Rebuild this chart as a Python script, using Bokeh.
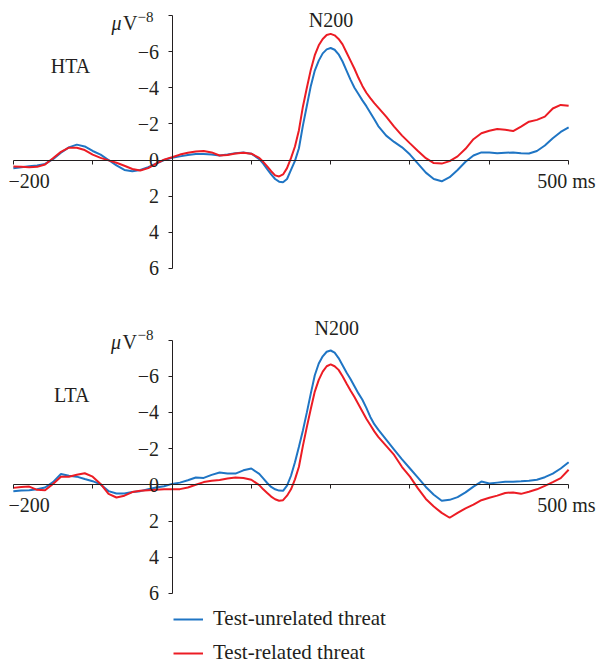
from bokeh.plotting import figure
from bokeh.models import Range1d, FixedTicker, Label, Legend, LegendItem
from bokeh.layouts import column
from bokeh.embed import file_html
from bokeh.resources import INLINE

# ---------------- data (µV, negative plotted upward) ----------------
time_ms = [-200, -190, -180, -170, -160, -150, -140, -130, -120, -110,
           -100, -90, -80, -70, -60, -50, -40, -30, -20, -10,
           0, 10, 20, 30, 40, 50, 60, 70, 80, 90, 100,
           110, 115, 120, 125, 130, 135, 140, 145, 150, 155,
           160, 165, 170, 175, 180, 185, 190, 195, 200, 205,
           210, 215, 220, 225, 230, 235, 240, 245, 250, 255, 260,
           270, 280, 290, 300, 310, 320, 330, 340, 350, 360,
           370, 380, 390, 400, 410, 420, 430, 440, 450, 460,
           470, 480, 490, 500]

hta_unrelated = [0.45, 0.40, 0.35, 0.30, 0.22, -0.05, -0.40, -0.70, -0.85, -0.75,
                 -0.50, -0.30, 0.00, 0.30, 0.55, 0.62, 0.55, 0.40, 0.20, 0.00,
                 -0.12, -0.20, -0.28, -0.33, -0.33, -0.30, -0.25, -0.30, -0.38, -0.42, -0.35,
                 -0.05, 0.20, 0.50, 0.80, 1.05, 1.20, 1.23, 1.05, 0.55, 0.05,
                 -0.65, -1.90, -3.00, -4.10, -4.95, -5.50, -5.90, -6.12, -6.20, -6.10,
                 -5.85, -5.45, -4.95, -4.45, -4.00, -3.65, -3.30, -2.98, -2.62, -2.25, -1.88,
                 -1.35, -1.00, -0.70, -0.30, 0.20, 0.70, 1.05, 1.18, 0.95, 0.55,
                 0.10, -0.25, -0.42, -0.42, -0.38, -0.40, -0.42, -0.38, -0.36, -0.50,
                 -0.80, -1.20, -1.55, -1.80]

hta_related = [0.36, 0.38, 0.40, 0.38, 0.25, -0.10, -0.45, -0.68, -0.68, -0.55,
               -0.30, -0.12, 0.02, 0.15, 0.32, 0.50, 0.58, 0.45, 0.20, -0.02,
               -0.15, -0.30, -0.40, -0.47, -0.50, -0.42, -0.25, -0.28, -0.36, -0.40, -0.35,
               -0.12, 0.10, 0.35, 0.62, 0.85, 0.91, 0.80, 0.45, -0.10, -0.75,
               -1.65, -2.95, -4.00, -5.00, -5.80, -6.35, -6.70, -6.92, -6.98, -6.90,
               -6.70, -6.40, -5.95, -5.50, -5.05, -4.55, -4.10, -3.72, -3.42, -3.15, -2.90,
               -2.40, -1.85, -1.35, -0.92, -0.50, -0.10, 0.17, 0.20, 0.06, -0.20,
               -0.62, -1.15, -1.48, -1.62, -1.72, -1.68, -1.60, -1.85, -2.12, -2.22,
               -2.40, -2.85, -3.05, -3.00]

lta_unrelated = [0.36, 0.32, 0.30, 0.25, 0.15, -0.15, -0.60, -0.50, -0.45, -0.32,
                 -0.20, -0.02, 0.35, 0.48, 0.48, 0.40, 0.35, 0.25, 0.15, 0.08,
                 -0.05, -0.12, -0.25, -0.40, -0.38, -0.55, -0.68, -0.62, -0.62, -0.80, -0.90,
                 -0.60, -0.35, -0.10, 0.12, 0.25, 0.32, 0.33, 0.05, -0.50, -1.25,
                 -2.10, -3.00, -4.00, -5.05, -6.05, -6.70, -7.10, -7.35, -7.42, -7.30,
                 -7.00, -6.60, -6.20, -5.85, -5.45, -5.05, -4.70, -4.25, -3.75, -3.35, -3.05,
                 -2.50, -1.95, -1.40, -0.90, -0.40, 0.12, 0.55, 0.88, 0.83, 0.68,
                 0.42, 0.10, -0.18, -0.07, -0.12, -0.17, -0.17, -0.19, -0.22, -0.28,
                 -0.42, -0.62, -0.90, -1.25]

lta_related = [0.17, 0.12, 0.10, 0.28, 0.30, -0.05, -0.45, -0.45, -0.55, -0.64,
               -0.45, -0.05, 0.50, 0.70, 0.60, 0.40, 0.33, 0.30, 0.27, 0.24,
               0.24, 0.24, 0.15, 0.00, -0.15, -0.22, -0.27, -0.35, -0.40, -0.38, -0.28,
               0.02, 0.25, 0.45, 0.65, 0.80, 0.88, 0.85, 0.60, 0.25, -0.30,
               -1.00, -2.15, -3.20, -4.20, -5.15, -5.80, -6.25, -6.55, -6.65, -6.55,
               -6.35, -6.00, -5.60, -5.21, -4.85, -4.45, -4.05, -3.65, -3.30, -2.95, -2.65,
               -2.15, -1.65, -0.98, -0.45, 0.20, 0.78, 1.20, 1.55, 1.82, 1.55,
               1.30, 1.10, 0.85, 0.72, 0.60, 0.45, 0.42, 0.50, 0.38, 0.25,
               0.06, -0.15, -0.37, -0.83]

y_ticks = [-8, -6, -4, -2, 0, 2, 4, 6]
y_tick_labels = ["", "\u22126", "\u22124", "\u22122", "0", "2", "4", "6"]
x_ticks = [-200, -100, 0, 100, 200, 300, 400, 500]
series_names = ["Test-unrelated threat", "Test-related threat"]
panel_names = ["HTA", "LTA"]

for s in (hta_unrelated, hta_related, lta_unrelated, lta_related):
    assert len(s) == len(time_ms)

# ---------------- styling / geometry ----------------
FONT = "Liberation Serif"
INK = "#231f20"
BLUE = "#1f75c4"
RED = "#ec1c24"
W = 596

# horizontal mapping (pixels): x = X0 + XS * t
X0, XS = 171.5, 0.7933
def tx(px):
    return (px - X0) / XS

def make_panel(top_px, bot_px, y0, ys, unrelated, related):
    def ty(py):
        return (py - y0) / ys
    p = figure(width=W, height=int(round(bot_px - top_px)),
               x_range=Range1d(tx(0), tx(W)),
               y_range=Range1d(ty(bot_px), ty(top_px)),
               output_backend="svg", toolbar_location=None, min_border=0)
    p.outline_line_color = None
    p.xgrid.visible = False
    p.ygrid.visible = False
    b = p.line(time_ms, unrelated, line_color=BLUE, line_width=2)
    r = p.line(time_ms, related, line_color=RED, line_width=2)

    xa = p.xaxis[0]
    xa.fixed_location = 0
    xa.bounds = (-200, 500)
    xa.ticker = FixedTicker(ticks=x_ticks)
    xa.major_label_overrides = {t: "" for t in x_ticks}
    xa.major_tick_out = 4
    xa.major_tick_in = 0
    xa.minor_tick_out = 0
    xa.minor_tick_in = 0
    xa.axis_line_color = INK
    xa.major_tick_line_color = INK

    ya = p.yaxis[0]
    ya.fixed_location = 0
    ya.bounds = (-8, 6)
    ya.ticker = FixedTicker(ticks=y_ticks)
    ya.major_label_overrides = dict(zip(y_ticks, y_tick_labels))
    ya.major_tick_out = 4
    ya.major_tick_in = 0
    ya.minor_tick_out = 0
    ya.minor_tick_in = 0
    ya.major_label_standoff = 9
    ya.axis_line_color = INK
    ya.major_tick_line_color = INK
    ya.major_label_text_font = FONT
    ya.major_label_text_font_size = "20px"
    ya.major_label_text_color = INK
    return p, b, r, ty

def add_label(p, x, y, text, align="center", size="20px", style="normal"):
    p.add_layout(Label(x=x, y=y, text=text, text_align=align,
                       text_baseline="middle", text_font=FONT,
                       text_font_size=size, text_font_style=style,
                       text_color=INK))

# ---------------- top panel (HTA) ----------------
p1, b1, r1, ty1 = make_panel(0, 300, 159.5, 18.07, hta_unrelated, hta_related)
add_label(p1, tx(70), ty1(65), panel_names[0])
add_label(p1, tx(330.5), ty1(19), "N200")
add_label(p1, tx(28.7), ty1(180), "\u2212200")
add_label(p1, tx(595), ty1(180), "500 ms", align="right")
add_label(p1, tx(121), ty1(22), "\u03bc", align="right", style="italic")
add_label(p1, tx(137), ty1(22), "V", align="right")
add_label(p1, tx(137), ty1(16.5), "\u22128", align="left", size="15px")

# ---------------- bottom panel (LTA) ----------------
p2, b2, r2, ty2 = make_panel(300, 665, 484.3, 18.1, lta_unrelated, lta_related)
add_label(p2, tx(71.3), ty2(394), panel_names[1])
add_label(p2, tx(336.3), ty2(327), "N200")
add_label(p2, tx(28.7), ty2(504.5), "\u2212200")
add_label(p2, tx(595), ty2(504.5), "500 ms", align="right")
add_label(p2, tx(120.5), ty2(341), "\u03bc", align="right", style="italic")
add_label(p2, tx(136.5), ty2(341), "V", align="right")
add_label(p2, tx(137), ty2(334.5), "\u22128", align="left", size="15px")

legend = Legend(items=[LegendItem(label=series_names[0], renderers=[b2]),
                       LegendItem(label=series_names[1], renderers=[r2])],
                location=(173, 0), orientation="vertical",
                glyph_width=30, glyph_height=20, label_standoff=10,
                spacing=9, padding=0, margin=0,
                border_line_color=None, background_fill_alpha=0,
                label_text_font=FONT, label_text_font_size="21px",
                label_text_color=INK)
p2.add_layout(legend)

layout = column(p1, p2, spacing=0)
open("out.html", "w").write(file_html(layout, INLINE, "ERP"))
